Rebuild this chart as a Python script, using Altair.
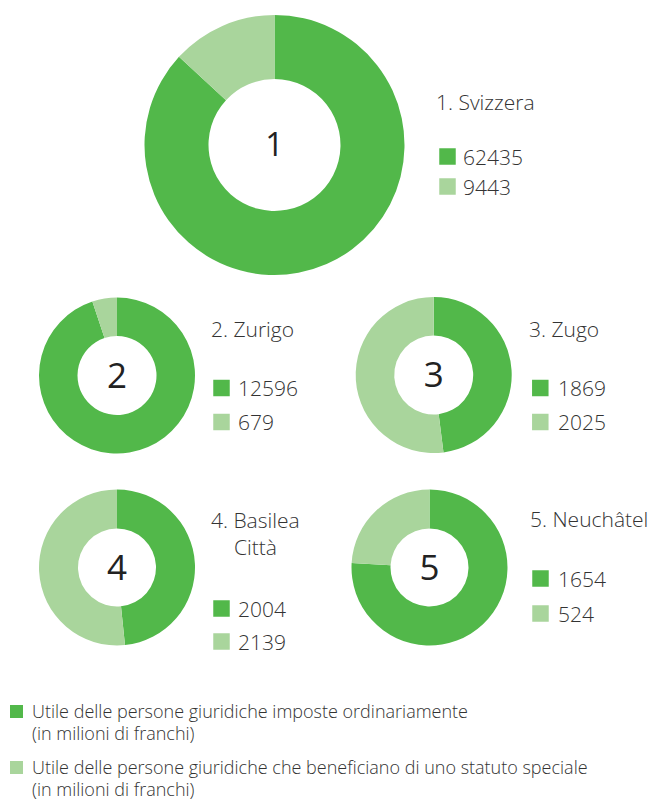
import altair as alt
import pandas as pd

# ---- data ----
numeri = ["1", "2", "3", "4", "5"]
regioni = ["Svizzera", "Zurigo", "Zugo", "Basilea\nCittà", "Neuchâtel"]
ordinari = [62435, 12596, 1869, 2004, 1654]
speciali = [9443, 679, 2025, 2139, 524]
serie = [
    "Utile delle persone giuridiche imposte ordinariamente\n(in milioni di franchi)",
    "Utile delle persone giuridiche che beneficiano di uno statuto speciale\n(in milioni di franchi)",
]

rows = []
for i in range(len(regioni)):
    for j, v in enumerate([ordinari[i], speciali[i]]):
        rows.append({"reg": i, "regione": regioni[i], "num": numeri[i],
                     "serie": serie[j], "idx": j, "valore": v})
df = pd.DataFrame(rows)

# ---- layout / style ----
DARK = "#52B84A"
LIGHT = "#A9D59C"
TXT = "#333333"
FONT = "Open Sans"

layout = [
    dict(cx=274.5, cy=145, ro=130, ri=66, cs=32, lx=436, ly=110, sx=447.5, sy=156.5, nx=463, dy=30),
    dict(cx=117, cy=375.5, ro=78, ri=39.5, cs=35, lx=211, ly=337, sx=221.5, sy=388, nx=238, dy=34),
    dict(cx=433.7, cy=375, ro=78, ri=39.5, cs=35, lx=529, ly=337, sx=540.3, sy=388, nx=558, dy=34),
    dict(cx=117, cy=567.5, ro=78, ri=39, cs=35, lx=211, ly=528, sx=221.5, sy=608.5, nx=238, dy=33),
    dict(cx=429.5, cy=567.5, ro=78, ri=39, cs=35, lx=530, ly=527, sx=540.5, sy=578.5, nx=558, dy=35),
]

color = alt.Color("serie:N", scale=alt.Scale(domain=serie, range=[DARK, LIGHT]), legend=None)
base = alt.Chart(df)
layers = []

for i, L in enumerate(layout):
    d = base.transform_filter(alt.datum.reg == i)
    arc = d.mark_arc(outerRadius=L["ro"], innerRadius=L["ri"], stroke=None).encode(
        theta=alt.Theta("valore:Q", stack="normalize",
                        scale=alt.Scale(domain=[0, 1], range=[0, 6.283185307179586])),
        color=color,
        order=alt.Order("idx:Q"),
        x=alt.value(L["cx"]),
        y=alt.value(L["cy"]),
    )
    first = d.transform_filter(alt.datum.idx == 0)
    center = first.mark_text(
        font=FONT, fontSize=L["cs"], color="#222222", align="center", baseline="middle"
    ).encode(text="num:N", x=alt.value(L["cx"]), y=alt.value(L["cy"] + 1))
    label = first.transform_calculate(
        l1="datum.num + '. ' + split(datum.regione, '\\n')[0]"
    ).mark_text(
        font=FONT, fontSize=21, fontWeight=300, color=TXT, align="left", baseline="alphabetic"
    ).encode(text="l1:N", x=alt.value(L["lx"]), y=alt.value(L["ly"]))
    label2 = first.transform_calculate(
        l2="slice(split(datum.regione, '\\n'), 1)"
    ).mark_text(
        font=FONT, fontSize=21, fontWeight=300, color=TXT, align="left",
        baseline="alphabetic", lineHeight=27
    ).encode(text="l2:N", x=alt.value(L["lx"] + 23), y=alt.value(L["ly"] + 27))
    sq = d.transform_calculate(py=f"{L['sy']} + datum.idx * {L['dy']}").mark_square(
        size=272, opacity=1, stroke=None
    ).encode(color=color, x=alt.value(L["sx"]), y=alt.Y("py:Q", scale=None, axis=None))
    num = d.transform_calculate(py=f"{L['sy'] + 8} + datum.idx * {L['dy']}").mark_text(
        font=FONT, fontSize=21, fontWeight=300, color=TXT, align="left", baseline="alphabetic"
    ).encode(text=alt.Text("valore:Q", format="d"), x=alt.value(L["nx"]),
             y=alt.Y("py:Q", scale=None, axis=None))
    layers += [arc, center, label, label2, sq, num]

# bottom legend
leg = base.transform_filter(alt.datum.reg == 0)
leg_sq = leg.transform_calculate(py="711.5 + datum.idx * 56").mark_square(
    size=169, opacity=1, stroke=None
).encode(color=color, x=alt.value(16.5), y=alt.Y("py:Q", scale=None, axis=None))
leg_tx = leg.transform_calculate(py="718 + datum.idx * 56").mark_text(
    font=FONT, fontSize=18, fontWeight=300, color=TXT, align="left",
    baseline="alphabetic", lineBreak="\n", lineHeight=22
).encode(text="serie:N", x=alt.value(32), y=alt.Y("py:Q", scale=None, axis=None))
layers += [leg_sq, leg_tx]

chart = alt.layer(*layers).properties(
    width=658, height=801, autosize=alt.AutoSizeParams(type="none"), padding=0,
    background="white"
).configure_view(stroke=None)

chart.save("out.html", embed_options={"renderer": "svg", "actions": False})
